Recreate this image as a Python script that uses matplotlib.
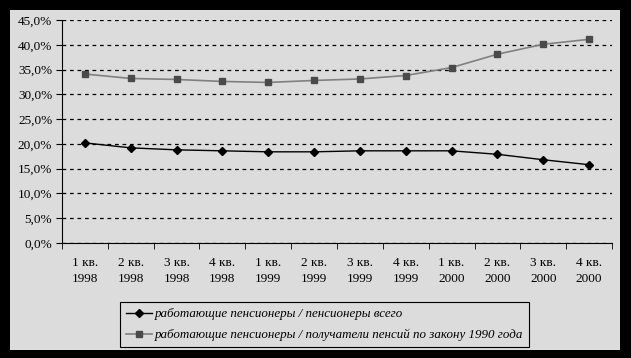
import numpy as np
import matplotlib.pyplot as plt
from matplotlib.patches import Rectangle
from matplotlib.ticker import FuncFormatter

quarters = ['1 кв.\n1998', '2 кв.\n1998', '3 кв.\n1998', '4 кв.\n1998',
            '1 кв.\n1999', '2 кв.\n1999', '3 кв.\n1999', '4 кв.\n1999',
            '1 кв.\n2000', '2 кв.\n2000', '3 кв.\n2000', '4 кв.\n2000']
all_pens = [20.2, 19.2, 18.8, 18.6, 18.4, 18.4, 18.6, 18.6, 18.6, 17.9, 16.8, 15.8]
law_1990 = [34.1, 33.2, 33.0, 32.6, 32.4, 32.8, 33.1, 33.8, 35.4, 38.1, 40.1, 41.1]
lab1 = 'работающие пенсионеры / пенсионеры всего'
lab2 = 'работающие пенсионеры / получатели пенсий по закону 1990 года'

plt.rcParams['font.family'] = ['Liberation Serif', 'DejaVu Serif']
bg = '#dcdcdc'

fig = plt.figure(figsize=(6.31, 3.58), dpi=100, facecolor='black')
W, H = 631, 358
fig.patches.append(Rectangle((10 / W, 8 / H), 610 / W, 340 / H,
                             transform=fig.transFigure, facecolor=bg,
                             edgecolor='none', zorder=-5))

ax = fig.add_axes([62 / W, (H - 243) / H, 550 / W, 223 / H])
ax.set_facecolor(bg)
x = np.arange(len(quarters))
ax.plot(x, all_pens, color='black', lw=1, marker='D', ms=4, mfc='black',
        mec='black', label=lab1)
ax.plot(x, law_1990, color='#808080', lw=1.2, marker='s', ms=5, mfc='#4a4a4a',
        mec='#4a4a4a', label=lab2)

ax.set_xlim(-0.5, len(quarters) - 0.5)
ax.set_ylim(0, 45)
ax.set_yticks(np.arange(0, 46, 5))
ax.yaxis.set_major_formatter(FuncFormatter(lambda v, p: ('%.1f%%' % v).replace('.', ',')))
ax.set_xticks(x)
ax.set_xticklabels(quarters, fontsize=9.5, linespacing=1.5)
ax.set_xticks(np.arange(-0.5, len(quarters), 1), minor=True)
ax.tick_params(axis='x', which='major', length=0, pad=10)
ax.tick_params(axis='x', which='minor', length=4, direction='out', color='black')
ax.tick_params(axis='y', length=4, direction='out', labelsize=9.5, pad=3)
ax.grid(axis='y', color='black', ls=(0, (3, 3)), lw=0.9)
ax.set_axisbelow(True)
for s in ['top', 'right']:
    ax.spines[s].set_visible(False)
ax.spines['left'].set_color('black')
ax.spines['bottom'].set_color('black')

leg = fig.legend(loc='lower left', bbox_to_anchor=(120 / W, (H - 347) / H),
                 frameon=True, fancybox=False, edgecolor='black',
                 facecolor=bg, framealpha=1, prop={'style': 'italic', 'size': 9.4},
                 handlelength=2.0, handletextpad=0.2, borderpad=0.45,
                 labelspacing=0.65, borderaxespad=0)
leg.get_frame().set_linewidth(0.8)

fig.savefig('out.png', dpi=100, facecolor='black')
